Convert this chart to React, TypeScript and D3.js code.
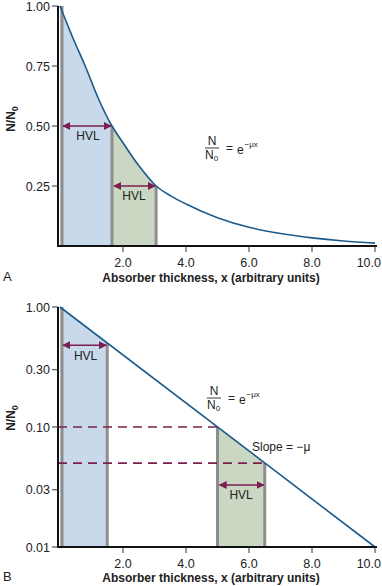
import React from "react";
import * as d3 from "d3";

const W = 382;
const H = 586;

// Top chart (linear) data
const topCurveX = [0, 0.4, 0.8, 1.2, 1.65, 2.0, 2.5, 3.05, 3.5, 4.0, 5.0, 6.0, 7.0, 8.0, 9.0, 10.0];
const topCurveY = [1.0, 0.87, 0.75, 0.62, 0.5, 0.43, 0.335, 0.25, 0.21, 0.175, 0.118, 0.078, 0.052, 0.034, 0.021, 0.012];
const topHVL = [0, 1.65, 3.05];
const topHVLLevels = [1.0, 0.5, 0.25];
const topYTicks = [0.25, 0.5, 0.75, 1.0];
const xTicks = [2, 4, 6, 8, 10];

// Bottom chart (log) data
const botLineX = [0, 10];
const botLineY = [1.0, 0.01];
const botHVL1 = [0, 1.5];
const botHVL2 = [5.0, 6.5];
const botLevels = [0.1, 0.05];
const botHVLArrowY = 0.48;
const botYTicks = [1.0, 0.3, 0.1, 0.03, 0.01];

const BLUE = "#c7d9ea";
const GREEN = "#cad8c3";
const GRAY = "#8e8e8e";
const CURVE = "#1c5a8a";
const MAROON = "#7a1f50";
const FONT = "'Liberation Sans', Arial, Helvetica, sans-serif";

const xLabel = "Absorber thickness, x (arbitrary units)";

function Equation({ x, y }: { x: number; y: number }) {
  return (
    <g transform={`translate(${x},${y})`} fontFamily={FONT} fill="#222">
      <text x={7} y={-3} fontSize={12} textAnchor="middle">N</text>
      <line x1={0} x2={14} y1={0} y2={0} stroke="#222" strokeWidth={0.9} />
      <text x={0} y={11} fontSize={12}>N</text>
      <text x={8.8} y={13} fontSize={8}>0</text>
      <text x={21} y={4} fontSize={12}>=</text>
      <text x={32} y={6} fontSize={12}>e</text>
      <text x={39.5} y={-1} fontSize={8}>−μx</text>
    </g>
  );
}

function Arrow({ x1, x2, y }: { x1: number; x2: number; y: number }) {
  return (
    <line
      x1={x1}
      x2={x2}
      y1={y}
      y2={y}
      stroke={MAROON}
      strokeWidth={1.6}
      markerStart="url(#arrowS)"
      markerEnd="url(#arrowE)"
    />
  );
}

function tickLabelProps(px: number, t: number) {
  // keep the last label inside the picture, as in the reference
  if (t === xTicks[xTicks.length - 1]) return { x: 381, textAnchor: "end" as const };
  return { x: px, textAnchor: "middle" as const };
}

export default function App() {
  // Top chart scales
  const xTop = d3.scaleLinear().domain([0, 10]).range([60, 375]);
  const yTop = d3.scaleLinear().domain([0, 1]).range([246, 6]);
  const topPts: [number, number][] = topCurveX.map((v, i) => [v, topCurveY[i]]);
  const topLine = d3
    .line<[number, number]>()
    .x((d) => xTop(d[0]))
    .y((d) => yTop(d[1]))
    .curve(d3.curveMonotoneX);
  const topArea = d3
    .area<[number, number]>()
    .x((d) => xTop(d[0]))
    .y0(yTop(0))
    .y1((d) => yTop(d[1]))
    .curve(d3.curveMonotoneX);

  // Bottom chart scales
  const xBot = d3.scaleLinear().domain([0, 10]).range([60, 375]);
  const yBot = d3.scaleLog().domain([0.01, 1]).range([547, 307]);
  const botPts: [number, number][] = botLineX.map((v, i) => [v, botLineY[i]]);
  const botLineGen = d3
    .line<[number, number]>()
    .x((d) => xBot(d[0]))
    .y((d) => yBot(d[1]));
  const botInterp = (x: number) => {
    const t = (x - botLineX[0]) / (botLineX[1] - botLineX[0]);
    return Math.exp(Math.log(botLineY[0]) + t * (Math.log(botLineY[1]) - Math.log(botLineY[0])));
  };
  const botArea = d3
    .area<[number, number]>()
    .x((d) => xBot(d[0]))
    .y0(yBot(0.01))
    .y1((d) => yBot(d[1]));
  const band = (a: number, b: number): [number, number][] => [
    [a, botInterp(a)],
    [b, botInterp(b)],
  ];

  const axisX = 58;
  const topBase = yTop(0);
  const botBase = yBot(0.01);

  return (
    <svg
      width={W}
      height={H}
      viewBox={`0 0 ${W} ${H}`}
      style={{ position: "absolute", left: 0, top: 0, background: "#fff" }}
      fontFamily={FONT}
    >
      <defs>
        <marker id="arrowE" viewBox="0 0 10 10" refX="9" refY="5" markerWidth="5" markerHeight="5" orient="auto">
          <path d="M0,0 L10,5 L0,10 z" fill={MAROON} />
        </marker>
        <marker id="arrowS" viewBox="0 0 10 10" refX="1" refY="5" markerWidth="5" markerHeight="5" orient="auto">
          <path d="M10,0 L0,5 L10,10 z" fill={MAROON} />
        </marker>
        <clipPath id="clipBlueTop">
          <rect x={xTop(topHVL[0])} y={0} width={xTop(topHVL[1]) - xTop(topHVL[0])} height={H} />
        </clipPath>
        <clipPath id="clipGreenTop">
          <rect x={xTop(topHVL[1])} y={0} width={xTop(topHVL[2]) - xTop(topHVL[1])} height={H} />
        </clipPath>
      </defs>

      {/* ===== TOP CHART ===== */}
      <path d={topArea(topPts) || ""} fill={BLUE} clipPath="url(#clipBlueTop)" />
      <path d={topArea(topPts) || ""} fill={GREEN} clipPath="url(#clipGreenTop)" />
      {topHVL.map((h, i) => (
        <line
          key={"tg" + i}
          x1={xTop(h) + (i === 0 ? 2 : 0)}
          x2={xTop(h) + (i === 0 ? 2 : 0)}
          y1={topBase}
          y2={yTop(topHVLLevels[i])}
          stroke={GRAY}
          strokeWidth={3}
        />
      ))}
      <path d={topLine(topPts) || ""} fill="none" stroke={CURVE} strokeWidth={1.6} />

      {/* axes */}
      <line x1={axisX} x2={axisX} y1={yTop(1)} y2={topBase + 1} stroke="#111" strokeWidth={2} />
      <line x1={axisX - 1} x2={377} y1={topBase} y2={topBase} stroke="#111" strokeWidth={2} />
      {topYTicks.map((t) => (
        <g key={"ty" + t}>
          <line x1={axisX - 6} x2={axisX} y1={yTop(t)} y2={yTop(t)} stroke="#333" strokeWidth={1} />
          <text x={axisX - 8} y={yTop(t) + 4.5} fontSize={12.5} textAnchor="end" fill="#222">
            {t.toFixed(2)}
          </text>
        </g>
      ))}
      {xTicks.map((t) => (
        <g key={"tx" + t}>
          <line x1={xTop(t)} x2={xTop(t)} y1={topBase} y2={topBase + 6} stroke="#333" strokeWidth={1} />
          <text {...tickLabelProps(xTop(t), t)} y={topBase + 21} fontSize={12.5} fill="#222">
            {t.toFixed(1)}
          </text>
        </g>
      ))}

      {/* HVL arrows top */}
      <Arrow x1={xTop(topHVL[0]) + 3} x2={xTop(topHVL[1]) - 1} y={yTop(0.5)} />
      <text x={(xTop(topHVL[0]) + xTop(topHVL[1])) / 2 + 2} y={yTop(0.5) + 14} fontSize={12} textAnchor="middle" fill="#222">HVL</text>
      <Arrow x1={xTop(topHVL[1]) + 2} x2={xTop(topHVL[2]) - 1} y={yTop(0.25)} />
      <text x={(xTop(topHVL[1]) + xTop(topHVL[2])) / 2} y={yTop(0.25) + 14} fontSize={12} textAnchor="middle" fill="#222">HVL</text>

      <Equation x={205} y={148} />

      <text
        transform={`translate(15,119) rotate(-90)`}
        fontSize={12}
        fontWeight="bold"
        textAnchor="middle"
        fill="#222"
      >
        N/N<tspan fontSize={9} dy={3}>0</tspan>
      </text>
      <text x={3} y={281} fontSize={13} fill="#222">A</text>
      <text x={211} y={282} fontSize={12} fontWeight="bold" textAnchor="middle" fill="#222">{xLabel}</text>

      {/* ===== BOTTOM CHART ===== */}
      <path d={botArea(band(botHVL1[0], botHVL1[1])) || ""} fill={BLUE} />
      <path d={botArea(band(botHVL2[0], botHVL2[1])) || ""} fill={GREEN} />
      {[botHVL1[0], botHVL1[1], botHVL2[0], botHVL2[1]].map((h, i) => (
        <line
          key={"bg" + i}
          x1={xBot(h) + (i === 0 ? 2 : 0)}
          x2={xBot(h) + (i === 0 ? 2 : 0)}
          y1={botBase}
          y2={yBot(botInterp(h))}
          stroke={GRAY}
          strokeWidth={3}
        />
      ))}
      {botLevels.map((lv, i) => (
        <line
          key={"dl" + i}
          x1={axisX}
          x2={xBot(botHVL2[i])}
          y1={yBot(lv)}
          y2={yBot(lv)}
          stroke={MAROON}
          strokeWidth={1.6}
          strokeDasharray="9,6"
        />
      ))}
      <path d={botLineGen(botPts) || ""} fill="none" stroke={CURVE} strokeWidth={1.6} />

      <line x1={axisX} x2={axisX} y1={yBot(1)} y2={botBase + 1} stroke="#111" strokeWidth={2} />
      <line x1={axisX - 1} x2={377} y1={botBase} y2={botBase} stroke="#111" strokeWidth={2} />
      {botYTicks.map((t) => (
        <g key={"by" + t}>
          <line x1={axisX - 6} x2={axisX} y1={yBot(t)} y2={yBot(t)} stroke="#333" strokeWidth={1} />
          <text x={axisX - 8} y={yBot(t) + 4.5} fontSize={12.5} textAnchor="end" fill="#222">
            {t.toFixed(2)}
          </text>
        </g>
      ))}
      {xTicks.map((t) => (
        <g key={"bx" + t}>
          <line x1={xBot(t)} x2={xBot(t)} y1={botBase} y2={botBase + 6} stroke="#333" strokeWidth={1} />
          <text {...tickLabelProps(xBot(t), t)} y={botBase + 21} fontSize={12.5} fill="#222">
            {t.toFixed(1)}
          </text>
        </g>
      ))}

      <Arrow x1={xBot(botHVL1[0]) + 3} x2={xBot(botHVL1[1]) - 1} y={yBot(botHVLArrowY)} />
      <text x={(xBot(botHVL1[0]) + xBot(botHVL1[1])) / 2 + 2} y={yBot(botHVLArrowY) + 15} fontSize={12} textAnchor="middle" fill="#222">HVL</text>
      <Arrow x1={xBot(botHVL2[0]) + 2} x2={xBot(botHVL2[1]) - 1} y={485} />
      <text x={(xBot(botHVL2[0]) + xBot(botHVL2[1])) / 2} y={499} fontSize={12} textAnchor="middle" fill="#222">HVL</text>

      <text x={252} y={451} fontSize={12} fill="#222">Slope = −μ</text>

      <Equation x={207} y={398} />

      <text
        transform={`translate(15,418) rotate(-90)`}
        fontSize={12}
        fontWeight="bold"
        textAnchor="middle"
        fill="#222"
      >
        N/N<tspan fontSize={9} dy={3}>0</tspan>
      </text>
      <text x={3} y={581} fontSize={13} fill="#222">B</text>
      <text x={211} y={582} fontSize={12} fontWeight="bold" textAnchor="middle" fill="#222">{xLabel}</text>
    </svg>
  );
}
